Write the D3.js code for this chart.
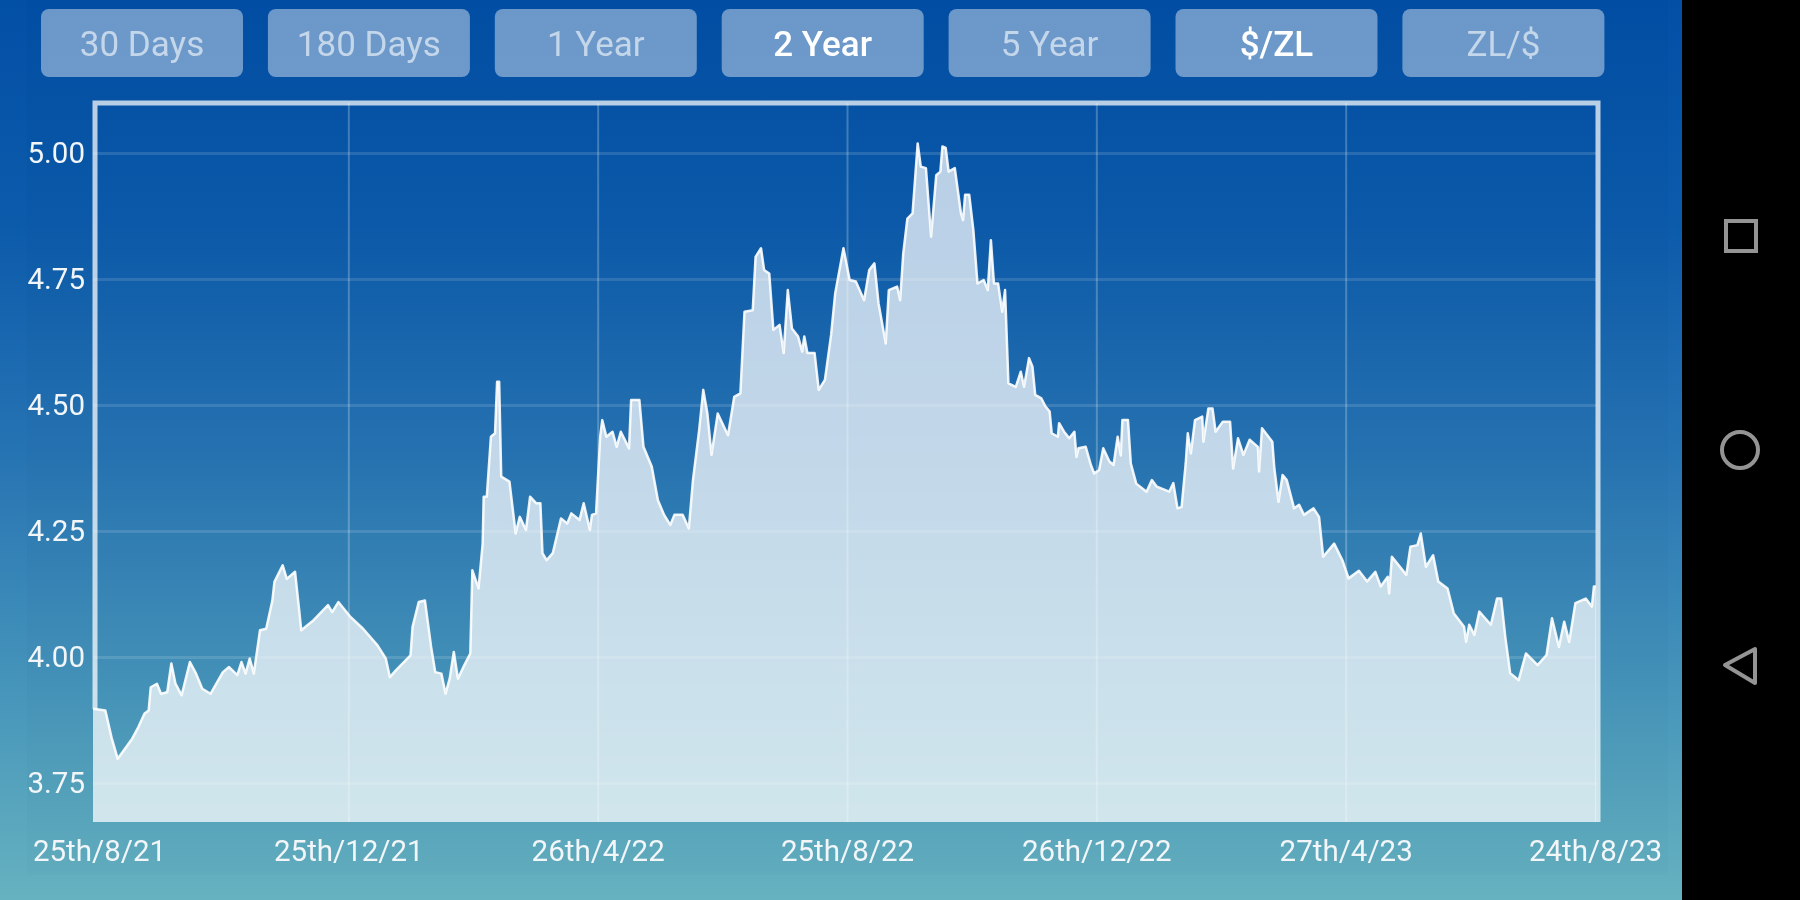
<!DOCTYPE html>
<html>
<head>
<meta charset="utf-8">
<script src="https://cdnjs.cloudflare.com/ajax/libs/d3/7.8.5/d3.min.js"></script>
<style>
  html, body { margin: 0; padding: 0; background: #000; overflow: hidden; }
  text { font-family: Roboto, sans-serif; }
  .domain { display: none; }
</style>
</head>
<body>
<div id="chart"></div>
<script>
// range buttons along the top
var buttonLabels = ["30 Days", "180 Days", "1 Year", "2 Year", "5 Year", "$/ZL", "ZL/$"];
var activeButtons = ["2 Year", "$/ZL"];

var startDate = "2021-08-25";
var endDate = "2023-08-24";
var rateTicks = [3.75, 4.00, 4.25, 4.50, 4.75, 5.00];
var dateLabels = ["25th/8/21", "25th/12/21", "26th/4/22", "25th/8/22", "26th/12/22", "27th/4/23", "24th/8/23"];

// days since startDate
var days = [0, 1, 6, 9, 12, 19, 22, 25, 27, 28, 31, 33, 36, 38, 40, 43, 47, 50, 53, 57, 63, 66, 70, 72, 74, 76, 78, 81, 84, 87, 88,
  92, 94, 98, 100, 101, 107, 114, 116, 119, 125, 131, 138, 142, 144, 147, 154, 155, 158, 161, 164, 166, 169, 171, 173, 175, 177, 180, 183,
  184, 187, 189, 189.5, 191, 193, 195, 196, 197, 198, 202, 205, 207, 210, 212, 215, 217, 218, 220, 223, 227, 230, 232, 236, 238, 241, 242, 244,
  246, 247, 249, 252, 254, 256, 260, 261, 265, 267, 271, 274, 277, 280, 282, 286, 289, 291, 294, 296, 298, 300, 303, 308, 311, 314,
  316, 320, 321.4, 324, 325.5, 328, 330, 333, 335, 337, 339, 342, 344, 345, 346.5, 350, 352, 355, 358, 360, 364, 367, 370, 374, 376.5, 379, 381, 384.5, 386, 390, 391.5, 393, 395, 397.5,
  400, 401.5, 404, 406.5, 409, 411, 412, 413.6, 415, 418, 421, 422, 423, 425, 427, 429, 432, 434, 435.5, 437, 439, 441, 442.4, 444, 447.6, 450, 451.6, 454, 455.7, 457,
  460, 462, 464, 465, 468, 468.6, 471, 473.5, 476, 477, 478, 481.5, 484, 485.6, 488, 490, 493, 495, 497, 498.5, 499.3, 502, 503.4, 506, 511, 513.6, 516, 522, 524, 526, 528, 530, 531, 532.5,
  534.5, 538, 538.6, 541, 543, 544.5, 548, 551.5, 553, 555.4, 558, 561, 565, 565.6, 567, 572, 573, 575, 577, 579, 582.6, 585, 587.4, 592, 594.7, 596.7,
  602, 606, 609, 614, 618, 622, 624.6, 628, 628.7, 630, 637, 639, 642.4, 644, 646.5, 650, 652.5, 657, 660, 665, 666, 667.5, 670, 672.4, 678, 681, 683, 685, 687.4,
  691.5, 695, 700.7, 705, 707.7, 711, 713.6, 716, 719, 724, 727, 728, 729];

// $/ZL rate on each of those days
var rates = [3.897, 3.897, 3.894, 3.84, 3.798, 3.838, 3.861, 3.888, 3.894, 3.94, 3.947, 3.927, 3.93, 3.987, 3.947, 3.924, 3.99, 3.967, 3.937, 3.927, 3.97, 3.98, 3.964, 3.99, 3.967, 3.997, 3.967, 4.053, 4.056, 4.112, 4.149,
  4.182, 4.155, 4.169, 4.093, 4.053, 4.073, 4.103, 4.089, 4.109, 4.079, 4.056, 4.023, 3.997, 3.96, 3.974, 4.003, 4.06, 4.109, 4.112, 4.02, 3.97, 3.967, 3.927, 3.957, 4.01, 3.957, 3.983, 4.007,
  4.172, 4.136, 4.225, 4.318, 4.318, 4.437, 4.444, 4.546, 4.546, 4.358, 4.348, 4.245, 4.278, 4.252, 4.318, 4.305, 4.305, 4.206, 4.192, 4.206, 4.275, 4.265, 4.285, 4.272, 4.305, 4.252, 4.282, 4.285,
  4.437, 4.47, 4.437, 4.447, 4.417, 4.447, 4.414, 4.51, 4.51, 4.417, 4.378, 4.311, 4.282, 4.262, 4.282, 4.282, 4.255, 4.351, 4.45, 4.53, 4.483, 4.401, 4.483, 4.44, 4.516, 4.523,
  4.685, 4.688, 4.794, 4.811, 4.768, 4.761, 4.649, 4.659, 4.603, 4.728, 4.652, 4.636, 4.606, 4.636, 4.603, 4.603, 4.53, 4.55, 4.639, 4.722, 4.811, 4.748, 4.745, 4.708, 4.768, 4.781, 4.702, 4.622, 4.728, 4.735, 4.708, 4.801, 4.87, 4.88,
  5.019, 4.973, 4.97, 4.834, 4.956, 4.963, 5.013, 5.01, 4.963, 4.97, 4.88, 4.867, 4.917, 4.917, 4.847, 4.741, 4.748, 4.728, 4.827, 4.741, 4.741, 4.685, 4.728, 4.543, 4.536, 4.566, 4.536, 4.593, 4.576, 4.52,
  4.513, 4.497, 4.487, 4.444, 4.437, 4.464, 4.447, 4.434, 4.447, 4.397, 4.414, 4.417, 4.381, 4.364, 4.371, 4.414, 4.388, 4.381, 4.437, 4.4, 4.47, 4.47, 4.384, 4.344, 4.328, 4.351, 4.338, 4.328, 4.345, 4.295, 4.298, 4.384, 4.444, 4.404,
  4.47, 4.477, 4.427, 4.493, 4.493, 4.447, 4.467, 4.467, 4.374, 4.434, 4.401, 4.431, 4.417, 4.368, 4.454, 4.427, 4.374, 4.308, 4.361, 4.351, 4.295, 4.302, 4.282, 4.295, 4.278, 4.199,
  4.225, 4.192, 4.156, 4.171, 4.15, 4.169, 4.14, 4.159, 4.126, 4.199, 4.163, 4.219, 4.222, 4.245, 4.179, 4.202, 4.15, 4.136, 4.087, 4.06, 4.03, 4.064, 4.044, 4.09, 4.064, 4.116, 4.116, 4.04, 3.968,
  3.954, 4.007, 3.984, 4.004, 4.077, 4.02, 4.07, 4.03, 4.107, 4.116, 4.1, 4.14, 4.14];

var width = 1800, height = 900;
var margin = {top: 103, left: 93, right: 1596, bottom: 822};

var parseDate = d3.utcParse("%Y-%m-%d");
var start = parseDate(startDate);
var data = days.map(function(d, i) {
  return {date: d3.utcHour.offset(start, d * 24), rate: rates[i]};
});

var x = d3.scaleUtc()
  .domain([start, parseDate(endDate)])
  .range([margin.left, margin.right]);

// the app spaces its date labels evenly, not by calendar
var xLabels = d3.scalePoint()
  .domain(dateLabels)
  .range([99, 1595]);

var y = d3.scaleLinear()
  .domain([3.75, 5])
  .range([783, 153]);

var svg = d3.select("#chart").append("svg")
  .attr("width", width)
  .attr("height", height)
  .style("display", "block")
  .style("filter", "blur(0.6px)");

// background
var grad = svg.append("defs").append("linearGradient")
  .attr("id", "bg")
  .attr("x1", 0).attr("y1", 0).attr("x2", 0).attr("y2", 1);
[[0, "#024fa6"], [0.25, "#0c5bab"], [0.5, "#2673b3"], [0.75, "#4493ba"], [1, "#66b2c0"]].forEach(function(s) {
  grad.append("stop").attr("offset", s[0]).attr("stop-color", s[1]);
});

svg.append("rect").attr("width", 1682).attr("height", height).attr("fill", "url(#bg)");
svg.append("rect").attr("x", 27).attr("width", 1641).attr("height", 875).attr("fill", "#000").attr("opacity", 0.015);
svg.append("rect").attr("x", 1682).attr("width", 118).attr("height", height).attr("fill", "#000");

// buttons
var button = svg.append("g").selectAll("g")
  .data(buttonLabels)
  .enter().append("g")
  .attr("transform", function(d, i) { return "translate(" + (41 + i * 226.9) + ",9)"; });

button.append("rect")
  .attr("width", 202)
  .attr("height", 68)
  .attr("rx", 8)
  .attr("fill", "#fff")
  .attr("fill-opacity", 0.42);

button.append("text")
  .attr("x", 101)
  .attr("y", 47)
  .attr("text-anchor", "middle")
  .style("font-size", "35px")
  .style("font-weight", function(d) { return activeButtons.indexOf(d) >= 0 ? 500 : 400; })
  .attr("fill", "#fff")
  .attr("fill-opacity", function(d) { return activeButtons.indexOf(d) >= 0 ? 1 : 0.6; })
  .text(function(d) { return d; });

// grid lines + axes
var yAxis = svg.append("g")
  .attr("transform", "translate(" + margin.left + ",0)")
  .call(d3.axisLeft(y)
    .tickValues(rateTicks)
    .tickSize(-(margin.right - margin.left))
    .tickPadding(8)
    .tickFormat(d3.format(".2f")));

yAxis.selectAll("line").attr("stroke", "#fff").attr("stroke-opacity", 0.13).attr("stroke-width", 3);

var xAxis = svg.append("g")
  .attr("transform", "translate(0," + margin.bottom + ")")
  .call(d3.axisBottom(xLabels)
    .tickSize(-(margin.bottom - margin.top))
    .tickPadding(18));

xAxis.selectAll("line")
  .attr("stroke", "#fff")
  .attr("stroke-opacity", 0.24)
  .attr("stroke-width", 2)
  .filter(function(d, i) { return i == 0 || i == dateLabels.length - 1; })
  .remove();

svg.selectAll(".tick text")
  .attr("fill", "#f2f6f9")
  .style("font-size", "29.5px");

// frame, left and top legs stop where the line starts, right leg sits next to the area
svg.append("path")
  .attr("d", d3.line()([[margin.left + 2, y(rates[0])], [margin.left + 2, margin.top], [margin.right + 2, margin.top], [margin.right + 2, margin.bottom]]))
  .attr("fill", "none")
  .attr("stroke", "#fff")
  .attr("stroke-opacity", 0.72)
  .attr("stroke-width", 5);

// area + line
var area = d3.area()
  .x(function(d) { return x(d.date); })
  .y0(margin.bottom)
  .y1(function(d) { return y(d.rate); });

var line = d3.line()
  .x(function(d) { return x(d.date); })
  .y(function(d) { return y(d.rate); });

svg.append("path")
  .datum(data)
  .attr("d", area)
  .attr("fill", "#fff")
  .attr("fill-opacity", 0.72);

svg.append("path")
  .datum(data)
  .attr("d", line)
  .attr("fill", "none")
  .attr("stroke", "#fff")
  .attr("stroke-opacity", 0.9)
  .attr("stroke-width", 2.5)
  .attr("stroke-linejoin", "round");

// android nav bar
var nav = svg.append("g")
  .attr("fill", "none")
  .attr("stroke", "#949494")
  .attr("stroke-width", 4);
nav.append("rect").attr("x", 1726).attr("y", 221).attr("width", 30).attr("height", 30);
nav.append("circle").attr("cx", 1740).attr("cy", 450).attr("r", 18);
nav.append("path").attr("d", "M1725,665L1755,649V683Z").attr("stroke-linejoin", "round");
</script>
</body>
</html>
